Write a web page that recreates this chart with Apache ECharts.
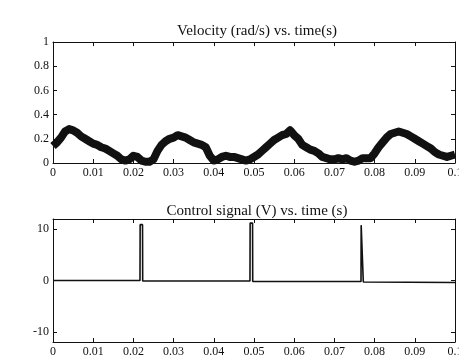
<!DOCTYPE html>
<html>
<head>
<meta charset="utf-8">
<script src="https://cdn.jsdelivr.net/npm/echarts@6/dist/echarts.min.js"></script>
<style>
html,body{margin:0;padding:0;background:#fff;}
#c{width:459px;height:358px;}
</style>
</head>
<body>
<div id="c"></div>
<script>
// Velocity (rad/s) (mid-line of the noisy band)
const timeV = [0.000,0.001,0.002,0.003,0.004,0.005,0.006,0.007,0.008,0.009,
  0.010,0.011,0.012,0.013,0.014,0.015,0.016,0.017,0.018,0.019,
  0.020,0.021,0.022,0.023,0.024,0.025,0.026,0.027,0.028,0.029,
  0.030,0.031,0.032,0.033,0.034,0.035,0.036,0.037,0.038,0.039,
  0.040,0.041,0.042,0.043,0.044,0.045,0.046,0.047,0.048,0.049,
  0.050,0.051,0.052,0.053,0.054,0.055,0.056,0.057,0.058,0.059,
  0.060,0.061,0.062,0.063,0.064,0.065,0.066,0.067,0.068,0.069,
  0.070,0.071,0.072,0.073,0.074,0.075,0.076,0.077,0.078,0.079,
  0.080,0.081,0.082,0.083,0.084,0.085,0.086,0.087,0.088,0.089,
  0.090,0.091,0.092,0.093,0.094,0.095,0.096,0.097,0.098,0.099,0.100];
const velocity = [0.14,0.17,0.21,0.26,0.28,0.27,0.25,0.22,0.20,0.18,
  0.16,0.15,0.13,0.12,0.10,0.08,0.06,0.03,0.02,0.03,
  0.06,0.05,0.02,0.01,0.01,0.03,0.10,0.15,0.18,0.20,
  0.21,0.23,0.22,0.21,0.19,0.17,0.16,0.15,0.13,0.06,
  0.02,0.03,0.05,0.06,0.05,0.05,0.04,0.03,0.02,0.03,
  0.05,0.07,0.10,0.13,0.16,0.19,0.21,0.23,0.24,0.27,
  0.23,0.20,0.15,0.13,0.11,0.10,0.08,0.05,0.04,0.03,
  0.03,0.04,0.03,0.04,0.02,0.01,0.02,0.04,0.04,0.04,
  0.08,0.13,0.17,0.21,0.24,0.25,0.26,0.25,0.24,0.22,
  0.20,0.18,0.16,0.14,0.12,0.09,0.07,0.06,0.05,0.06,0.07];

// Control signal (V)
const timeC = [0, 0.02164, 0.02168, 0.02227, 0.02231, 0.0490, 0.04904, 0.04964, 0.04968, 0.07662, 0.07666, 0.07715, 0.07719, 0.1];
const control = [0, 0, 10.9, 10.9, -0.1, -0.1, 11.2, 11.2, -0.2, -0.2, 10.8, 10.8, -0.3, -0.4];

const timeTicks = ['0','0.01','0.02','0.03','0.04','0.05','0.06','0.07','0.08','0.09','0.1'];
const controlTicks = [-10, 0, 10];

const titles = ['Velocity (rad/s) vs. time(s)', 'Control signal (V) vs. time (s)'];

const FONT = 'Liberation Serif';
const INK = '#111';

function xAxes(gi) {
  return [
    {
      gridIndex: gi, type: 'value', min: 0, max: 0.1, interval: 0.01, position: 'bottom',
      axisLine: {show: true, onZero: false, lineStyle: {color: INK, width: 1}},
      axisTick: {inside: true, length: 4, lineStyle: {color: INK}},
      axisLabel: {color: INK, fontFamily: FONT, fontSize: 12, margin: 4,
        formatter: v => timeTicks[Math.round(v * 100)]},
      splitLine: {show: false}
    },
    {
      gridIndex: gi, type: 'value', min: 0, max: 0.1, interval: 0.01, position: 'top',
      axisLine: {show: true, onZero: false, lineStyle: {color: INK, width: 1}},
      axisTick: {inside: true, length: 4, lineStyle: {color: INK}},
      axisLabel: {show: false}, splitLine: {show: false}
    }
  ];
}

const option = {
  backgroundColor: '#fff',
  animation: false,
  title: [
    {text: titles[0], left: 252, top: 19, textAlign: 'center',
      textStyle: {fontFamily: FONT, fontSize: 15, fontWeight: 'normal', color: INK}},
    {text: titles[1], left: 252, top: 199, textAlign: 'center',
      textStyle: {fontFamily: FONT, fontSize: 15, fontWeight: 'normal', color: INK}}
  ],
  grid: [
    {left: 53, right: 4, top: 42, height: 121, outerBoundsMode: 'none', containLabel: false},
    {left: 53, right: 4, top: 219, height: 123, outerBoundsMode: 'none', containLabel: false}
  ],
  xAxis: [...xAxes(0), ...xAxes(1)],
  yAxis: [
    {gridIndex: 0, type: 'value', min: 0, max: 1, interval: 0.2, position: 'left',
      axisLine: {show: true, onZero: false, lineStyle: {color: INK}},
      axisTick: {show: true, inside: true, length: 4, lineStyle: {color: INK}},
      axisLabel: {color: INK, fontFamily: FONT, fontSize: 12, margin: 4},
      splitLine: {show: false}},
    {gridIndex: 0, type: 'value', min: 0, max: 1, interval: 0.2, position: 'right',
      axisLine: {show: true, onZero: false, lineStyle: {color: INK}},
      axisTick: {show: true, inside: true, length: 4, lineStyle: {color: INK}},
      axisLabel: {show: false}, splitLine: {show: false}},
    {gridIndex: 1, type: 'value', min: -12, max: 12, position: 'left',
      axisLine: {show: true, onZero: false, lineStyle: {color: INK}},
      axisTick: {show: true, inside: true, length: 4, customValues: controlTicks, lineStyle: {color: INK}},
      axisLabel: {color: INK, fontFamily: FONT, fontSize: 12, margin: 4, customValues: controlTicks},
      splitLine: {show: false}},
    {gridIndex: 1, type: 'value', min: -12, max: 12, position: 'right',
      axisLine: {show: true, onZero: false, lineStyle: {color: INK}},
      axisTick: {show: true, inside: true, length: 4, customValues: controlTicks, lineStyle: {color: INK}},
      axisLabel: {show: false}, splitLine: {show: false}}
  ],
  series: [
    {type: 'line', xAxisIndex: 0, yAxisIndex: 0, symbol: 'none',
      data: timeV.map((t, i) => [t, velocity[i]]),
      lineStyle: {color: '#111', width: 8, join: 'round', cap: 'butt'}},
    {type: 'line', xAxisIndex: 2, yAxisIndex: 2, symbol: 'none',
      data: timeC.map((t, i) => [t, control[i]]),
      lineStyle: {color: '#111', width: 1.6}}
  ]
};

const chart = echarts.init(document.getElementById('c'), null, {renderer: 'canvas'});
chart.setOption(option);
</script>
</body>
</html>
